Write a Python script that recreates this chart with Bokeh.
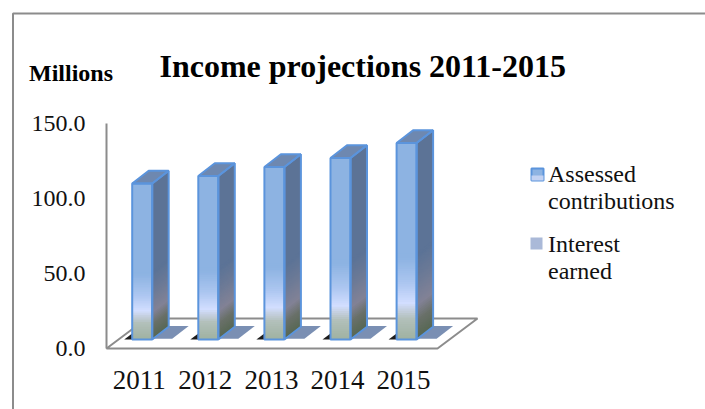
from bokeh.core.properties import value
from bokeh.embed import file_html
from bokeh.models import BoxAnnotation, FixedTicker, Label, LinearAxis, NumeralTickFormatter, Range1d
from bokeh.plotting import figure
from bokeh.resources import INLINE

# Chart data, in millions
years = ["2011", "2012", "2013", "2014", "2015"]
assessed = [104.0, 109.0, 115.0, 121.0, 131.0]
interest = [0.5, 0.5, 0.5, 0.5, 0.5]
value_ticks = [0, 50, 100, 150]
legend_names = ["Assessed", "contributions", "Interest", "earned"]

SERIF = "Liberation Serif"
GREY = "#8c8c8c"
EDGE = "#5b94dc"
INK = "#111111"

# Canvas geometry and the scale of the projected box
W, H = 705, 409
STEP = 66.1          # pixels between categories
FIRST = 141.7        # pixel centre of the first category
PX_PER_UNIT = 1.5    # pixels per million
BASE_PX = 339        # pixel of value zero on the front plane
AXIS_BASE_PX = 348   # pixel of value zero on the wall
WALL_PX = 106        # pixel of the wall line


def xpx(px):
    return (px - FIRST) / STEP


def ypx(px):
    return (BASE_PX - px) / PX_PER_UNIT


BAR_W = 20 / STEP
DX = 16.5 / STEP
DY = 12.7 / PX_PER_UNIT

p = figure(
    width=W, height=H, output_backend="svg", toolbar_location=None,
    x_range=Range1d(xpx(0), xpx(W)), y_range=Range1d(ypx(H), ypx(0)),
    min_border=0, outline_line_color=None,
    background_fill_color="white", border_fill_color="white",
    x_axis_type=None, y_axis_type=None,
)
p.grid.visible = False

# Surrounding chart-area border, open at the bottom and right
p.add_layout(BoxAnnotation(left=xpx(12.5), right=xpx(W + 20), top=ypx(13), bottom=ypx(H + 20),
                           fill_color=None, line_color=GREY, line_alpha=1.0, line_width=2,
                           level="underlay"))

# Value axis runs on the wall of the box, a little below the front plane
p.extra_y_ranges["wall"] = Range1d((AXIS_BASE_PX - H) / PX_PER_UNIT, AXIS_BASE_PX / PX_PER_UNIT)
y_axis = LinearAxis(
    y_range_name="wall", fixed_location=xpx(WALL_PX),
    ticker=FixedTicker(ticks=value_ticks), bounds=(0, 150),
    formatter=NumeralTickFormatter(format="0.0"),
    axis_line_color=GREY, axis_line_width=2, major_tick_line_color=None,
    minor_tick_line_color=None, major_label_standoff=15,
    major_label_text_font=SERIF, major_label_text_font_size="24px",
    major_label_text_color=INK,
)
p.add_layout(y_axis, "left")

# Category axis, labels sit slightly left of the bar centres
SHIFT = 3.0 / STEP
p.extra_x_ranges["labels"] = Range1d(xpx(0) + SHIFT, xpx(W) + SHIFT)
x_axis = LinearAxis(
    x_range_name="labels", fixed_location=ypx(360),
    ticker=FixedTicker(ticks=list(range(len(years)))),
    major_label_overrides={i: y for i, y in enumerate(years)},
    axis_line_color=None, major_tick_line_color=None, minor_tick_line_color=None,
    major_label_standoff=4, major_label_text_font=SERIF,
    major_label_text_font_size="27px", major_label_text_color=INK,
)
p.add_layout(x_axis, "below")

# Floor of the box
fx0, fx1 = xpx(WALL_PX), xpx(437)
fdx, fdy = 40 / STEP, 30 / PX_PER_UNIT
fy = ypx(AXIS_BASE_PX)
p.patch(
    [fx0, fx1, fx1 + fdx, fx0 + fdx], [fy, fy, fy + fdy, fy + fdy],
    fill_color="white", line_color=GREY, line_width=2,
)


def mix(stops, t):
    for (t0, c0), (t1, c1) in zip(stops, stops[1:]):
        if t <= t1:
            f = 0 if t1 == t0 else (t - t0) / (t1 - t0)
            return "#%02x%02x%02x" % tuple(round(a + (b - a) * f) for a, b in zip(c0, c1))
    return "#%02x%02x%02x" % stops[-1][1]


# Vertical shading of the bar faces, as fractions of the bar height
FRONT = [(0.0, (160, 178, 162)), (0.10, (178, 192, 186)), (0.14, (195, 206, 220)),
         (0.18, (210, 222, 255)), (0.28, (172, 198, 240)), (0.41, (141, 179, 226)), (1.0, (141, 179, 226))]
SIDE = [(0.0, (88, 104, 84)), (0.09, (105, 112, 105)), (0.17, (130, 130, 150)),
        (0.30, (108, 122, 150)), (0.42, (92, 115, 150)), (1.0, (92, 115, 150))]
BANDS = 40
SHADED = 0.45  # the faces are flat above this fraction

for i, (a, b) in enumerate(zip(assessed, interest)):
    x0, x1 = i - BAR_W / 2, i + BAR_W / 2

    # Contact shadow on the floor
    p.patch([x0 - 8 / STEP, x0, x0], [0, 0, 6 / PX_PER_UNIT], fill_color="#1c1c1c", line_color=None)

    # Interest earned: a very shallow bar beside the main one
    p.patch(
        [x1, x1 + BAR_W, x1 + BAR_W + DX, x1 + DX],
        [b, b, b + DY, b + DY], fill_color="#7a8fb3", line_color=None,
    )

    # Assessed contributions: each band paints from its lower edge to the bar top,
    # and the next band covers the rest, so no seams appear between them
    for k in range(BANDS):
        t = SHADED * k / BANDS
        y0 = a * t
        p.patch([x1, x1 + DX, x1 + DX, x1], [y0, y0 + DY, a + DY, a],
                fill_color=mix(SIDE, t), line_color=None)
        p.quad(left=x0, right=x1, bottom=y0, top=a, fill_color=mix(FRONT, t), line_color=None)

    # Top face and edges
    p.patch([x0, x1, x1 + DX, x0 + DX], [a, a, a + DY, a + DY],
            fill_color="#6e88b0", line_color=EDGE, line_width=2)
    p.quad(left=x0, right=x1, bottom=0, top=a, fill_color=None, line_color=EDGE, line_width=2)
    p.patch([x1, x1 + DX, x1 + DX, x1], [0, DY, a + DY, a],
            fill_color=None, line_color=EDGE, line_width=2)

# Key on the right
sw0, sw1 = xpx(531), xpx(543)
p.quad(left=sw0, right=sw1, bottom=ypx(180), top=ypx(168),
       fill_color="#8db3e2", line_color=EDGE, line_width=2)
p.quad(left=sw0, right=sw1, bottom=ypx(180), top=ypx(175),
       fill_color="#c3d2f2", line_color=None)
p.quad(left=xpx(530), right=xpx(542), bottom=ypx(249), top=ypx(237),
       fill_color="#aab9d8", line_color=None)
p.text(
    x=[xpx(547.5)] * 4, y=[ypx(v) for v in (173, 200, 243, 270)], text=legend_names,
    text_font=value(SERIF), text_font_size="24px", text_color=INK,
    text_baseline="middle", text_align="left",
)

# Chart title and unit caption
p.add_layout(Label(x=xpx(159), y=ypx(65), text="Income projections 2011-2015",
                   text_font=SERIF, text_font_size="32px", text_font_style="bold",
                   text_color="black", text_baseline="middle"))
p.add_layout(Label(x=xpx(28.5), y=ypx(72), text="Millions",
                   text_font=SERIF, text_font_size="24px", text_font_style="bold",
                   text_color="black", text_baseline="middle"))

open("out.html", "w").write(file_html(p, INLINE))
